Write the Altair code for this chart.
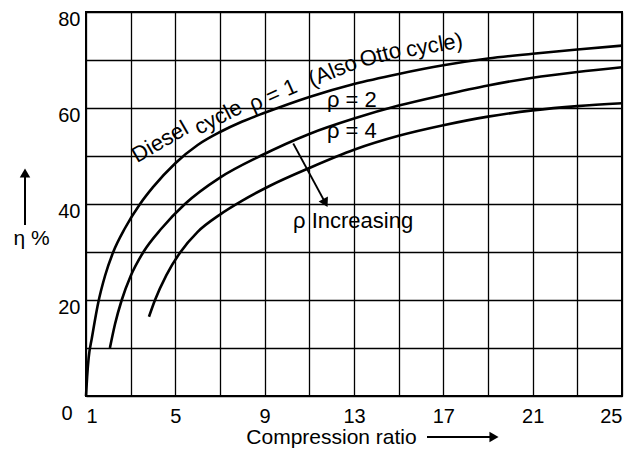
import altair as alt
import pandas as pd

# ---- data ----
rho1_x = [1.0, 1.05, 1.12, 1.26, 1.55, 1.85, 2.22, 2.75, 3.42, 4, 5, 6, 7, 8, 9, 11, 13, 15, 17, 19, 21, 23, 25]
rho1_y = [0, 4, 8, 12, 19.5, 25, 30, 35, 40, 43.5, 48.5, 52.3, 55, 57.2, 59, 62.3, 65, 67.1, 68.9, 70.3, 71.3, 72.2, 73.0]

rho2_x = [2.07, 2.3, 2.6, 3.0, 3.57, 4.4, 5.43, 7, 8.8, 11, 13, 15, 17, 19, 21, 23, 25]
rho2_y = [10, 15, 20, 25, 30, 35, 40, 45.5, 50, 54.6, 57.8, 60.5, 62.7, 64.7, 66.3, 67.5, 68.5]

rho4_x = [3.82, 4.09, 4.6, 5.2, 6, 7, 8, 9.24, 11, 13, 15, 17, 19, 21, 23, 25]
rho4_y = [16.5, 20, 25.2, 29.8, 34.2, 37.8, 40.7, 43.8, 47.5, 51.3, 54.2, 56.4, 58.2, 59.5, 60.4, 61.0]

x_grid = list(range(1, 26, 2))
y_grid = list(range(0, 81, 10))

label_text = ["Diesel", "cycle", "ρ = 1", "(Also", "Otto", "cycle)", "ρ = 2", "ρ = 4", "ρ Increasing"]
label_x = [3.28, 6.06, 8.48, 11.12, 13.36, 15.38, 11.79, 11.79, 10.27]
label_y = [48.5, 54.4, 59.2, 64.4, 68.5, 70.6, 60.3, 53.7, 34.9]
label_angle = [330, 333, 336, 338, 345, 350, 0, 0, 0]

FONT = "Liberation Sans"

rows = []
for name, xs, ys in [("1", rho1_x, rho1_y), ("2", rho2_x, rho2_y), ("4", rho4_x, rho4_y)]:
    for xv, yv in zip(xs, ys):
        rows.append({"rho": name, "x": xv, "y": yv})
curves_df = pd.DataFrame(rows)
labels_df = pd.DataFrame({"text": label_text, "x": label_x, "y": label_y, "angle": label_angle})
one = pd.DataFrame({"a": [0]})

xscale = alt.Scale(domain=[1, 25], nice=False, zero=False)
yscale = alt.Scale(domain=[0, 80], nice=False)

curves = alt.Chart(curves_df).mark_line(
    color="black", strokeWidth=2.6, interpolate="monotone"
).encode(
    x=alt.X("x:Q", scale=xscale, axis=alt.Axis(
        values=x_grid,
        labelExpr="(datum.value - 1) % 4 == 0 ? datum.label : ''",
        title="Compression ratio", titleX=245, titleY=47,
        titleAlign="center", titleBaseline="alphabetic",
        titleFontSize=21, titleFontWeight="normal",
        labelPadding=10,
    )),
    y=alt.Y("y:Q", scale=yscale, axis=alt.Axis(
        values=y_grid,
        labelExpr="datum.value % 20 == 0 && datum.value > 0 ? datum.label : ''",
        title="η %", titleAngle=0, titleX=-55, titleY=232,
        titleAlign="center", titleBaseline="alphabetic",
        titleFontSize=21, titleFontWeight="normal",
        labelPadding=6, labelOffset=7,
    )),
    detail="rho:N",
)

texts = alt.Chart(labels_df).mark_text(
    align="left", baseline="alphabetic", fontSize=22, font=FONT, color="black"
).encode(
    x=alt.X("x:Q", scale=xscale),
    y=alt.Y("y:Q", scale=yscale),
    text="text:N",
    angle=alt.Angle("angle:Q", scale=None),
)

zero_label = alt.Chart(pd.DataFrame({"x": [1], "y": [0], "t": ["0"]})).mark_text(
    fontSize=20, font=FONT, dx=-19, dy=18, baseline="middle", align="center", color="black"
).encode(x=alt.X("x:Q", scale=xscale), y=alt.Y("y:Q", scale=yscale), text="t:N")

# arrow "rho increasing"
arr_df = pd.DataFrame({"x": [10.28], "y": [52.6], "x2": [11.72], "y2": [40.2]})
arrow_line = alt.Chart(arr_df).mark_rule(color="black", strokeWidth=1.8).encode(
    x=alt.X("x:Q", scale=xscale), y=alt.Y("y:Q", scale=yscale), x2="x2:Q", y2="y2:Q")
arrow_head = alt.Chart(arr_df).mark_point(
    shape="triangle-up", filled=True, size=110, angle=152, color="black", opacity=1
).encode(x=alt.X("x2:Q", scale=xscale), y=alt.Y("y2:Q", scale=yscale))

# axis title arrows
xa_line = alt.Chart(one).mark_rule(color="black", strokeWidth=2).encode(
    x=alt.value(341), x2=alt.value(406), y=alt.value(425))
xa_head = alt.Chart(one).mark_point(
    shape="triangle-right", filled=True, size=110, color="black", opacity=1
).encode(x=alt.value(408), y=alt.value(425))
ya_line = alt.Chart(one).mark_rule(color="black", strokeWidth=2).encode(
    x=alt.value(-61), y=alt.value(213), y2=alt.value(163))
ya_head = alt.Chart(one).mark_point(
    shape="triangle-up", filled=True, size=110, color="black", opacity=1
).encode(x=alt.value(-61), y=alt.value(161))

chart = alt.layer(
    curves, texts, zero_label, arrow_line, arrow_head, xa_line, xa_head, ya_line, ya_head
).properties(
    width=536, height=384,
    background="white",
    autosize=alt.AutoSizeParams(type="none"),
    padding={"left": 78, "top": 4, "right": 6, "bottom": 55},
).configure_view(
    stroke="black", strokeWidth=2
).configure_axis(
    grid=True, gridColor="black", gridWidth=1.3, gridOpacity=1,
    domain=False, ticks=False,
    labelFont=FONT, labelFontSize=20, labelColor="black",
    titleFont=FONT, titleColor="black",
)

chart.save("out.html", embed_options={"renderer": "svg", "actions": False})
